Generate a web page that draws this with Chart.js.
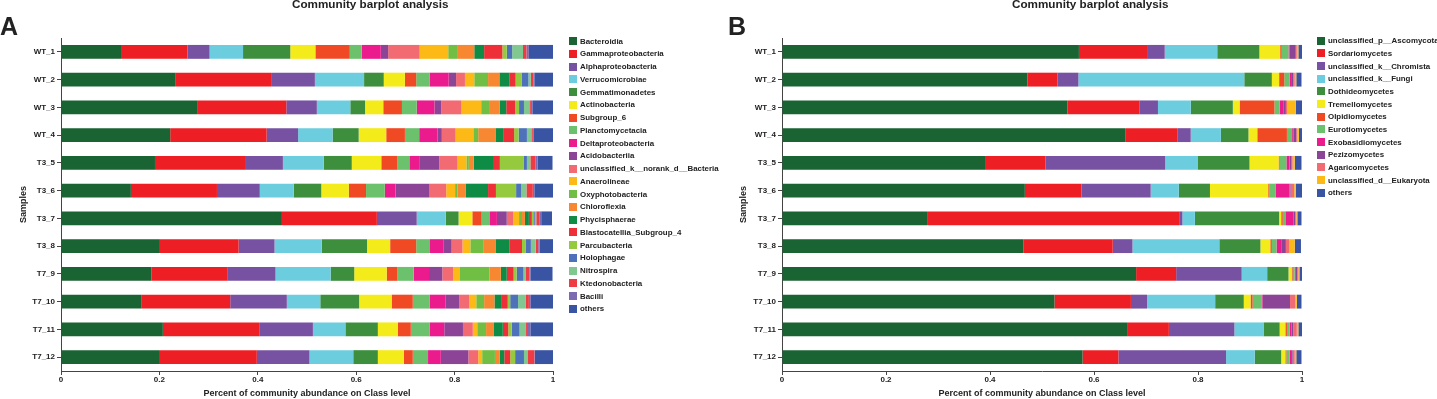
<!DOCTYPE html>
<html>
<head>
<meta charset="utf-8">
<script src="https://cdn.jsdelivr.net/npm/chart.js@4.4.1/dist/chart.umd.min.js"></script>
<style>
  body { margin: 0; background: #fff; }
  #wrap { position: relative; width: 1437px; height: 399px; overflow: hidden; font-family: 'Liberation Sans', Arial, sans-serif; color: #222; }
  canvas { position: absolute; top: 0; }
  .txt { position: absolute; white-space: nowrap; line-height: 1; font-weight: bold; }
  .leg { position: absolute; display: flex; align-items: center; white-space: nowrap; font-weight: bold; font-size: 7.9px; }
  .leg span.box { display: inline-block; width: 8px; height: 8px; margin-right: 3px; }
</style>
</head>
<body>
<div id="wrap">
  <canvas id="chartA" width="720" height="399" style="left:0"></canvas>
  <canvas id="chartB" width="717" height="399" style="left:720px"></canvas>
  <div class="txt" style="left:0;top:14px;font-size:25px">A</div>
  <div class="txt" style="left:728px;top:14px;font-size:25px">B</div>
  <div class="txt" style="left:292px;top:-2px;font-size:11.7px">Community barplot analysis</div>
  <div class="txt" style="left:1012px;top:-2px;font-size:11.7px">Community barplot analysis</div>
  <div id="legendA"></div>
  <div id="legendB"></div>
</div>
<script>
const samples = ['WT_1', 'WT_2', 'WT_3', 'WT_4', 'T3_5', 'T3_6', 'T3_7', 'T3_8', 'T7_9', 'T7_10', 'T7_11', 'T7_12'];
const xTicks = [0, 0.2, 0.4, 0.6, 0.8, 1];

// panel A, class level bacteria
const bacteroidia      = [0.122, 0.232, 0.278, 0.222, 0.191, 0.142, 0.449, 0.201, 0.184, 0.164, 0.207, 0.201];
const gammaproteo      = [0.135, 0.195, 0.180, 0.196, 0.183, 0.175, 0.193, 0.160, 0.155, 0.180, 0.197, 0.197];
const alphaproteo      = [0.045, 0.089, 0.062, 0.064, 0.077, 0.087, 0.081, 0.073, 0.097, 0.115, 0.108, 0.107];
const verrucomicrobiae = [0.068, 0.100, 0.068, 0.070, 0.083, 0.069, 0.059, 0.096, 0.112, 0.068, 0.066, 0.089];
const gemmatimonadetes = [0.096, 0.040, 0.030, 0.053, 0.057, 0.056, 0.026, 0.092, 0.048, 0.079, 0.066, 0.050];
const actinobacteria   = [0.051, 0.043, 0.037, 0.056, 0.060, 0.056, 0.028, 0.047, 0.066, 0.066, 0.041, 0.053];
const subgroup6        = [0.070, 0.023, 0.038, 0.038, 0.033, 0.035, 0.019, 0.053, 0.022, 0.043, 0.026, 0.018];
const planctomycetacia = [0.024, 0.027, 0.030, 0.029, 0.024, 0.038, 0.017, 0.028, 0.033, 0.034, 0.038, 0.031];
const deltaproteo      = [0.039, 0.039, 0.036, 0.037, 0.020, 0.022, 0.014, 0.028, 0.031, 0.033, 0.030, 0.026];
const acidobacteriia   = [0.015, 0.015, 0.014, 0.009, 0.041, 0.068, 0.020, 0.016, 0.027, 0.027, 0.038, 0.056];
const norankBacteria   = [0.064, 0.018, 0.041, 0.028, 0.037, 0.035, 0.013, 0.022, 0.022, 0.021, 0.020, 0.020];
const anaerolineae     = [0.058, 0.019, 0.040, 0.036, 0.018, 0.018, 0.012, 0.016, 0.014, 0.014, 0.009, 0.008];
const oxyphotobacteria = [0.018, 0.028, 0.016, 0.010, 0.005, 0.005, 0.006, 0.026, 0.060, 0.016, 0.018, 0.026];
const chloroflexia     = [0.035, 0.023, 0.022, 0.035, 0.010, 0.017, 0.006, 0.025, 0.023, 0.021, 0.016, 0.010];
const phycisphaerae    = [0.020, 0.020, 0.013, 0.017, 0.039, 0.045, 0.008, 0.028, 0.012, 0.015, 0.018, 0.009];
const blastocatellia   = [0.037, 0.013, 0.018, 0.021, 0.014, 0.016, 0.006, 0.026, 0.014, 0.012, 0.011, 0.012];
const parcubacteria    = [0.009, 0.012, 0.008, 0.009, 0.048, 0.041, 0.003, 0.008, 0.006, 0.005, 0.007, 0.010];
const holophagae       = [0.011, 0.014, 0.010, 0.017, 0.007, 0.010, 0.003, 0.010, 0.014, 0.016, 0.016, 0.018];
const nitrospira       = [0.022, 0.005, 0.011, 0.009, 0.007, 0.011, 0.003, 0.010, 0.004, 0.016, 0.012, 0.007];
const ktedonobacteria  = [0.007, 0.005, 0.003, 0.003, 0.010, 0.013, 0.006, 0.005, 0.008, 0.006, 0.003, 0.014];
const bacilli          = [0.005, 0.002, 0.003, 0.002, 0.005, 0.003, 0.004, 0.003, 0.002, 0.004, 0.007, 0.001];
const othersA          = [0.052, 0.039, 0.043, 0.041, 0.030, 0.039, 0.022, 0.028, 0.045, 0.045, 0.047, 0.037];

// panel B, class level fungi / eukaryotes
const ascomycota       = [0.571, 0.472, 0.549, 0.660, 0.392, 0.467, 0.279, 0.464, 0.681, 0.524, 0.665, 0.578];
const sordariomycetes  = [0.131, 0.058, 0.138, 0.101, 0.115, 0.109, 0.486, 0.172, 0.077, 0.147, 0.079, 0.069];
const chromista        = [0.034, 0.040, 0.036, 0.025, 0.230, 0.133, 0.005, 0.038, 0.126, 0.031, 0.126, 0.207];
const fungi            = [0.101, 0.319, 0.063, 0.058, 0.063, 0.054, 0.024, 0.167, 0.049, 0.131, 0.056, 0.055];
const dothideomycetes  = [0.081, 0.053, 0.081, 0.053, 0.099, 0.060, 0.162, 0.079, 0.041, 0.055, 0.031, 0.051];
const tremellomycetes  = [0.040, 0.014, 0.013, 0.017, 0.056, 0.112, 0.004, 0.019, 0.006, 0.013, 0.011, 0.008];
const olpidiomycetes   = [0.003, 0.010, 0.067, 0.057, 0.002, 0.002, 0.003, 0.003, 0.002, 0.004, 0.003, 0.002];
const eurotiomycetes   = [0.013, 0.010, 0.010, 0.010, 0.013, 0.012, 0.005, 0.009, 0.004, 0.017, 0.005, 0.006];
const exobasidiomycetes= [0.002, 0.003, 0.008, 0.003, 0.006, 0.027, 0.016, 0.009, 0.002, 0.002, 0.004, 0.003];
const pezizomycetes    = [0.012, 0.004, 0.004, 0.005, 0.004, 0.002, 0.003, 0.009, 0.003, 0.053, 0.003, 0.003];
const agaricomycetes   = [0.002, 0.003, 0.003, 0.002, 0.002, 0.007, 0.002, 0.006, 0.002, 0.010, 0.007, 0.004];
const eukaryota        = [0.003, 0.003, 0.016, 0.003, 0.004, 0.003, 0.002, 0.011, 0.002, 0.003, 0.003, 0.003];
const othersB          = [0.009, 0.010, 0.012, 0.008, 0.013, 0.012, 0.008, 0.012, 0.005, 0.009, 0.007, 0.010];

const seriesA = [
  ['Bacteroidia', bacteroidia, '#1a6332'],
  ['Gammaproteobacteria', gammaproteo, '#ed1f24'],
  ['Alphaproteobacteria', alphaproteo, '#7752a2'],
  ['Verrucomicrobiae', verrucomicrobiae, '#6ccddf'],
  ['Gemmatimonadetes', gemmatimonadetes, '#3d8f3e'],
  ['Actinobacteria', actinobacteria, '#f4eb1a'],
  ['Subgroup_6', subgroup6, '#f04a24'],
  ['Planctomycetacia', planctomycetacia, '#6cc16d'],
  ['Deltaproteobacteria', deltaproteo, '#ec1b8d'],
  ['Acidobacteriia', acidobacteriia, '#8c4596'],
  ['unclassified_k__norank_d__Bacteria', norankBacteria, '#f26a72'],
  ['Anaerolineae', anaerolineae, '#fdb916'],
  ['Oxyphotobacteria', oxyphotobacteria, '#70bf44'],
  ['Chloroflexia', chloroflexia, '#f78731'],
  ['Phycisphaerae', phycisphaerae, '#0e8c45'],
  ['Blastocatellia_Subgroup_4', blastocatellia, '#ee2f38'],
  ['Parcubacteria', parcubacteria, '#95c93e'],
  ['Holophagae', holophagae, '#4d72b9'],
  ['Nitrospira', nitrospira, '#80c88f'],
  ['Ktedonobacteria', ktedonobacteria, '#ef3b43'],
  ['Bacilli', bacilli, '#7e6ab0'],
  ['others', othersA, '#3a54a4']
];

const seriesB = [
  ['unclassified_p__Ascomycota', ascomycota, '#1a6332'],
  ['Sordariomycetes', sordariomycetes, '#ed1f24'],
  ['unclassified_k__Chromista', chromista, '#7752a2'],
  ['unclassified_k__Fungi', fungi, '#6ccddf'],
  ['Dothideomycetes', dothideomycetes, '#3d8f3e'],
  ['Tremellomycetes', tremellomycetes, '#f4eb1a'],
  ['Olpidiomycetes', olpidiomycetes, '#f04a24'],
  ['Eurotiomycetes', eurotiomycetes, '#6cc16d'],
  ['Exobasidiomycetes', exobasidiomycetes, '#ec1b8d'],
  ['Pezizomycetes', pezizomycetes, '#8c4596'],
  ['Agaricomycetes', agaricomycetes, '#f26a72'],
  ['unclassified_d__Eukaryota', eukaryota, '#fdb916'],
  ['others', othersB, '#3a54a4']
];

Chart.defaults.font.family = "'Liberation Sans', Arial, sans-serif";
Chart.defaults.color = '#222';

const axisColor = '#444';

function drawPanel(canvasId, series, leftW, rightPad) {
  const ctx = document.getElementById(canvasId).getContext('2d');
  return new Chart(ctx, {
    type: 'bar',
    data: {
      labels: samples,
      datasets: series.map(([label, values, color]) => ({
        label: label,
        data: values,
        backgroundColor: color,
        borderWidth: 0,
        barPercentage: 0.5,
        categoryPercentage: 1
      }))
    },
    options: {
      indexAxis: 'y',
      responsive: false,
      animation: false,
      layout: { padding: { left: 0, right: rightPad, top: 38, bottom: 0 } },
      plugins: { legend: { display: false }, tooltip: { enabled: false } },
      scales: {
        x: {
          stacked: true,
          min: 0,
          max: 1,
          afterBuildTicks: (scale) => { scale.ticks = xTicks.map(v => ({ value: v })); },
          afterFit: (scale) => { scale.height = 28; },
          ticks: {
            padding: 0,
            font: { size: 8, weight: 'bold' },
            callback: (v) => String(v)
          },
          grid: { drawOnChartArea: false, drawTicks: true, tickLength: 4, color: axisColor },
          border: { display: true, color: axisColor, width: 1 },
          title: {
            display: true,
            text: 'Percent of community abundance on Class level',
            font: { size: 9, weight: 'bold' },
            padding: { top: 0, bottom: 0 }
          }
        },
        y: {
          stacked: true,
          afterFit: (scale) => { scale.width = leftW; },
          ticks: { padding: 2, font: { size: 8, weight: 'bold' } },
          grid: { offset: false, drawOnChartArea: false, drawTicks: true, tickLength: 4, color: axisColor },
          border: { display: true, color: axisColor, width: 1 },
          title: {
            display: true,
            text: 'Samples',
            font: { size: 9, weight: 'bold' },
            padding: { top: 18, bottom: 0 }
          }
        }
      }
    }
  });
}

function buildLegend(elId, series, left, top0, step) {
  const el = document.getElementById(elId);
  series.forEach(([label, , color], i) => {
    const row = document.createElement('div');
    row.className = 'leg';
    row.style.left = left + 'px';
    row.style.top = (top0 + i * step - step / 2) + 'px';
    row.style.height = step + 'px';
    const box = document.createElement('span');
    box.className = 'box';
    box.style.background = color;
    row.appendChild(box);
    row.appendChild(document.createTextNode(label));
    el.appendChild(row);
  });
}

drawPanel('chartA', seriesA, 61, 720 - 553);
drawPanel('chartB', seriesB, 62, 717 - 582);
buildLegend('legendA', seriesA, 569, 41, 12.75);
buildLegend('legendB', seriesB, 1317, 40.7, 12.67);
</script>
</body>
</html>
